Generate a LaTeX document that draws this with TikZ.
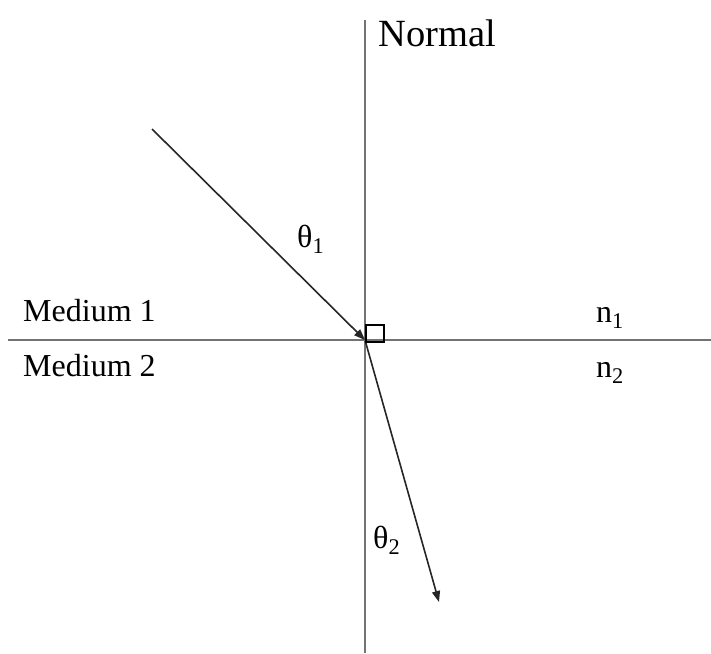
\documentclass[tikz,border=0pt]{standalone}
\usepackage{fontspec}
\setmainfont{Liberation Serif}
\usetikzlibrary{arrows.meta}
\begin{document}
\begin{tikzpicture}[x=1pt,y=-1pt,
  axisline/.style={line width=2pt,draw=black!55},
  ray/.style={line width=1.6pt,draw=black!85,-{Triangle[length=11pt,width=8pt]}},
  lbl/.style={font=\fontsize{32}{36}\selectfont,inner sep=0pt,anchor=base west},
  biglbl/.style={font=\fontsize{38.5}{42}\selectfont,inner sep=0pt,anchor=base west}]
\useasboundingbox (0,0) rectangle (711,653);
\coordinate (ntop) at (365,20);
\coordinate (nbot) at (365,653);
\coordinate (hl) at (8,340);
\coordinate (hr) at (711,340);
\coordinate (O) at (365,340);
\coordinate (src) at (152,129);
\coordinate (dst) at (439,602);
\draw[axisline] (ntop) -- (nbot);
\draw[axisline] (hl) -- (hr);
\draw[ray] (src) -- (O);
\draw[ray,shorten <=1pt] (O) -- (dst);
\draw[line width=1.5pt,black] (366,325) rectangle (384,342);
\node[biglbl] (normal) at (378,46) {Normal};
\node[lbl] (m1) at (23,321) {Medium 1};
\node[lbl] (m2) at (23,376) {Medium 2};
\node[lbl] (n1) at (596,322) {n\textsubscript{1}};
\node[lbl] (n2) at (596,377) {n\textsubscript{2}};
\node[lbl] (t1) at (297,247) {θ\textsubscript{1}};
\node[lbl] (t2) at (373,548) {θ\textsubscript{2}};
\end{tikzpicture}
\end{document}
